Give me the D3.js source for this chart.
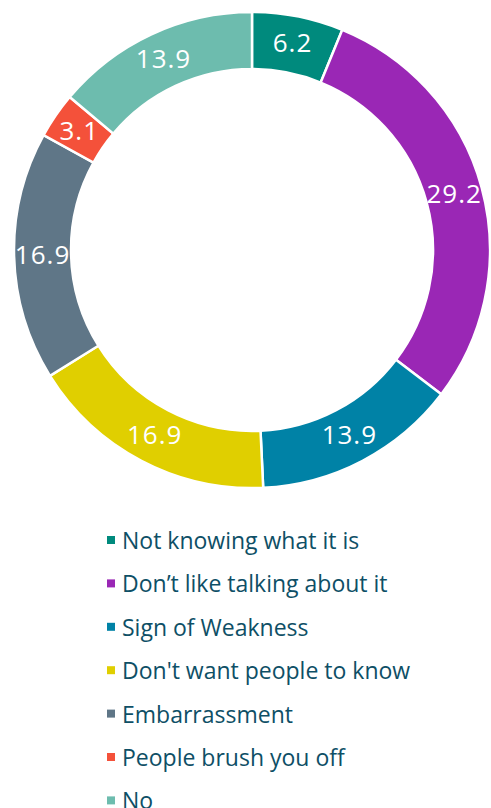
<!DOCTYPE html>
<html>
<head>
<meta charset="utf-8">
<script src="https://cdn.jsdelivr.net/npm/d3@7"></script>
<style>
  html, body { margin: 0; padding: 0; background: #fff; overflow: hidden; }
  svg { display: block; }
</style>
</head>
<body>
<div id="chart"></div>
<script>
// Reasons data
const categories = [
  "Not knowing what it is",
  "Don\u2019t like talking about it",
  "Sign of Weakness",
  "Don't want people to know",
  "Embarrassment",
  "People brush you off",
  "No",
];
const values = [6.2, 29.2, 13.9, 16.9, 16.9, 3.1, 13.9];
const colors = ["#008A7D", "#9A27B5", "#0082A6", "#E0CF00", "#5F7687", "#F4513A", "#6DBCAE"];

const width = 491;
const height = 808;
const cx = 252;
const cy = 250;
const outerR = 238;
const innerR = 181;

const svg = d3
  .select("#chart")
  .append("svg")
  .attr("width", width)
  .attr("height", height);

const pie = d3.pie().sort(null).value((d) => d.value);
const arc = d3.arc().innerRadius(innerR).outerRadius(outerR);

const data = categories.map((c, i) => ({ name: c, value: values[i], color: colors[i] }));
const arcs = pie(data);

const ring = svg.append("g").attr("transform", `translate(${cx},${cy})`);

ring
  .selectAll("path")
  .data(arcs)
  .enter()
  .append("path")
  .attr("d", arc)
  .attr("fill", (d) => d.data.color)
  .attr("stroke", "#fff")
  .attr("stroke-width", 2.5);

// value labels at slice centroid
ring
  .selectAll("text")
  .data(arcs)
  .enter()
  .append("text")
  .attr("x", (d) => arc.centroid(d)[0])
  .attr("y", (d) => arc.centroid(d)[1] - 2)
  .attr("text-anchor", "middle")
  .attr("dominant-baseline", "central")
  .attr("font-family", "'Open Sans', sans-serif")
  .attr("font-size", "26px")
  .attr("letter-spacing", "1px")
  .attr("fill", "#fff")
  .text((d) => d.data.value.toFixed(1));

// legend
const legend = svg.append("g").attr("transform", "translate(107,540)");
const rowH = 43.4;

const rows = legend
  .selectAll("g")
  .data(data)
  .enter()
  .append("g")
  .attr("transform", (d, i) => `translate(0,${i * rowH})`);

rows
  .append("rect")
  .attr("x", 0)
  .attr("y", -4)
  .attr("width", 8)
  .attr("height", 8)
  .attr("fill", (d) => d.color);

rows
  .append("text")
  .attr("x", 15)
  .attr("y", 0)
  .attr("dominant-baseline", "central")
  .attr("font-family", "'Open Sans', sans-serif")
  .attr("font-size", "23px")
  .attr("fill", "#0E4F66")
  .text((d) => d.name);
</script>
</body>
</html>
